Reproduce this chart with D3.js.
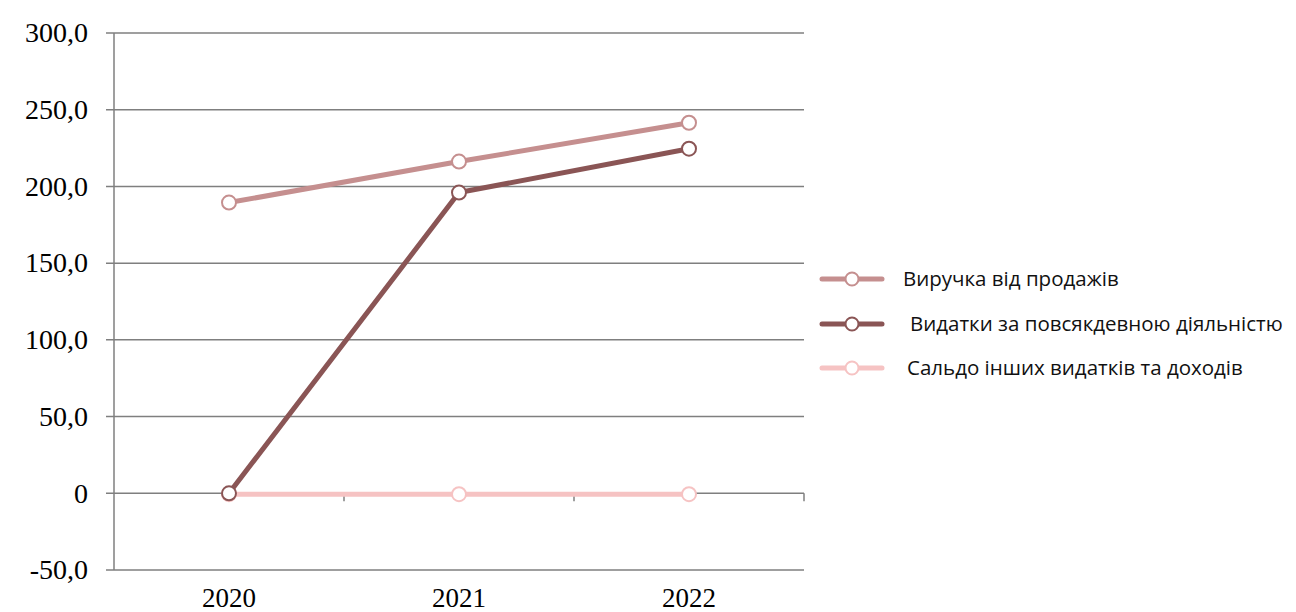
<!DOCTYPE html>
<html>
<head>
<meta charset="utf-8">
<script src="https://cdn.jsdelivr.net/npm/d3@7/dist/d3.min.js"></script>
<style>
  html, body { margin: 0; padding: 0; background: #ffffff; }
  svg { display: block; }
</style>
</head>
<body>
<svg id="chart" width="1296" height="612"></svg>
<script>
// Years on the category axis
const years = ["2020", "2021", "2022"];

// Series values, thousand UAH
const revenue = [189.5, 216.2, 241.5];
const operatingCosts = [0, 196.0, 224.6];
const otherBalance = [-0.6, -0.6, -0.6];

// Series names shown in the legend
const seriesNames = [
  "Виручка від продажів",
  "Видатки за повсякдевною діяльністю",
  "Сальдо інших видатків та доходів"
];

// Value axis ticks
const yTicks = [-50, 0, 50, 100, 150, 200, 250, 300];
const yTickLabels = ["-50,0", "0", "50,0", "100,0", "150,0", "200,0", "250,0", "300,0"];

const colors = ["#c58f8f", "#8a5555", "#f6c3c3"];
const seriesValues = [revenue, operatingCosts, otherBalance];

const svg = d3.select("#chart");
const plot = { left: 114, right: 804, top: 33, bottom: 570 };

const x = d3.scaleBand().domain(years).range([plot.left, plot.right]);
const y = d3.scaleLinear().domain([-50, 300]).range([plot.bottom, plot.top]);

const gridColor = "#7f7f7f";
const serif = "'Liberation Serif', 'Times New Roman', serif";

// Horizontal gridlines (the zero line doubles as the category axis)
svg.append("g")
  .selectAll("line")
  .data(yTicks)
  .join("line")
  .attr("x1", plot.left - 8)
  .attr("x2", plot.right)
  .attr("y1", d => y(d))
  .attr("y2", d => y(d))
  .attr("stroke", gridColor)
  .attr("stroke-width", 1.5);

// Vertical value axis
svg.append("line")
  .attr("x1", plot.left).attr("x2", plot.left)
  .attr("y1", plot.top).attr("y2", plot.bottom)
  .attr("stroke", gridColor)
  .attr("stroke-width", 1.5);

// Category tick marks on the zero line, between the years
const bandEdges = years.map(d => x(d) + x.bandwidth());
svg.append("g")
  .selectAll("line")
  .data(bandEdges)
  .join("line")
  .attr("x1", d => d).attr("x2", d => d)
  .attr("y1", y(0)).attr("y2", y(0) + 8)
  .attr("stroke", gridColor)
  .attr("stroke-width", 1.5);

// Value axis labels
svg.append("g")
  .selectAll("text")
  .data(yTicks)
  .join("text")
  .attr("x", 88)
  .attr("y", d => y(d))
  .attr("dy", "0.33em")
  .attr("text-anchor", "end")
  .attr("font-family", serif)
  .attr("font-size", 28)
  .attr("fill", "#000")
  .text((d, i) => yTickLabels[i]);

// Year labels under the plot
svg.append("g")
  .selectAll("text")
  .data(years)
  .join("text")
  .attr("x", d => x(d) + x.bandwidth() / 2)
  .attr("y", 607)
  .attr("text-anchor", "middle")
  .attr("font-family", serif)
  .attr("font-size", 27)
  .attr("fill", "#000")
  .text(d => d);

const line = d3.line()
  .x((d, i) => x(years[i]) + x.bandwidth() / 2)
  .y(d => y(d));

// Draw series bottom-up so the revenue line sits on top
const order = [2, 1, 0];
order.forEach(s => {
  const g = svg.append("g");
  g.append("path")
    .datum(seriesValues[s])
    .attr("d", line)
    .attr("fill", "none")
    .attr("stroke", colors[s])
    .attr("stroke-width", 5)
    .attr("stroke-linejoin", "round");
  g.selectAll("circle")
    .data(seriesValues[s])
    .join("circle")
    .attr("cx", (d, i) => x(years[i]) + x.bandwidth() / 2)
    .attr("cy", d => y(d))
    .attr("r", 7)
    .attr("fill", "#fff")
    .attr("stroke", colors[s])
    .attr("stroke-width", 2);
});

// Legend
const legendY = [279, 324, 368];
const legendTextX = [903, 910, 907];
const legend = svg.append("g");
seriesNames.forEach((name, i) => {
  legend.append("line")
    .attr("x1", 822).attr("x2", 882)
    .attr("y1", legendY[i]).attr("y2", legendY[i])
    .attr("stroke", colors[i])
    .attr("stroke-width", 5)
    .attr("stroke-linecap", "round");
  legend.append("circle")
    .attr("cx", 852).attr("cy", legendY[i])
    .attr("r", 6.5)
    .attr("fill", "#fff")
    .attr("stroke", colors[i])
    .attr("stroke-width", 2);
  legend.append("text")
    .attr("x", legendTextX[i])
    .attr("y", legendY[i])
    .attr("dy", "0.35em")
    .attr("font-family", "'Open Sans', 'Noto Sans', sans-serif")
    .attr("font-size", 20.5)
    .attr("fill", "#111")
    .text(name);
});
</script>
</body>
</html>
